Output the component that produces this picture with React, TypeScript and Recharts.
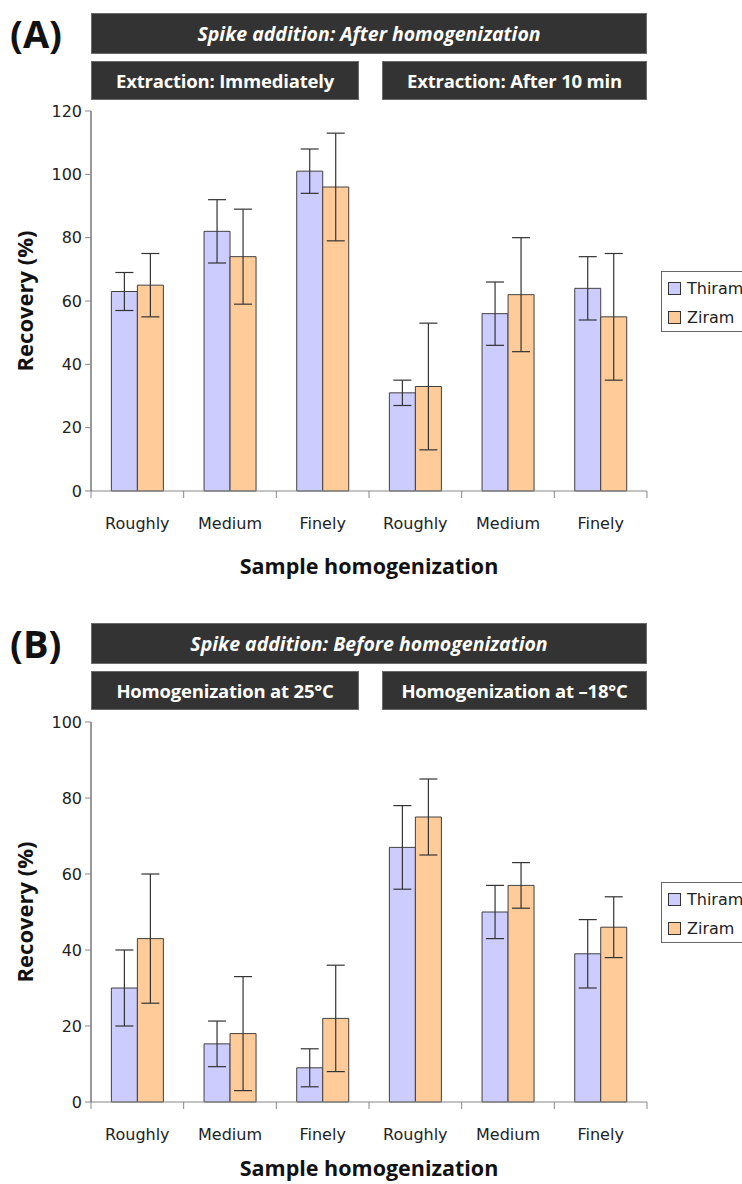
import { BarChart, Bar, XAxis, YAxis, ErrorBar } from "recharts";

const categories = ["Roughly", "Medium", "Finely", "Roughly", "Medium", "Finely"];

// Panel A: spike addition after homogenization
const thiramA = [63, 82, 101, 31, 56, 64];
const thiramErrA = [6, 10, 7, 4, 10, 10];
const ziramA = [65, 74, 96, 33, 62, 55];
const ziramErrA = [10, 15, 17, 20, 18, 20];
const ticksA = [0, 20, 40, 60, 80, 100, 120];

// Panel B: spike addition before homogenization
const thiramB = [30, 15.3, 9, 67, 50, 39];
const thiramErrB = [10, 6, 5, 11, 7, 9];
const ziramB = [43, 18, 22, 75, 57, 46];
const ziramErrB = [17, 15, 14, 10, 6, 8];
const ticksB = [0, 20, 40, 60, 80, 100];

const THIRAM = "#CCCCFF";
const ZIRAM = "#FFCC99";

const W = 742;
const PLOT_LEFT = 91;
const PLOT_RIGHT = 647;
const BAND = (PLOT_RIGHT - PLOT_LEFT) / categories.length;

const headFont = "'Open Sans', 'DejaVu Sans', sans-serif";
const tickFont = "'DejaVu Sans', sans-serif";

function buildRows(t: number[], te: number[], z: number[], ze: number[]) {
  return categories.map((c, i) => ({
    key: "c" + i,
    cat: c,
    thiram: t[i],
    thiramErr: te[i],
    ziram: z[i],
    ziramErr: ze[i],
  }));
}

function BoundaryTick(props: any) {
  const { x, y, index } = props;
  const half = BAND / 2;
  return (
    <g>
      <line x1={x - half} y1={y} x2={x - half} y2={y + 7} stroke="#888" />
      {index === categories.length - 1 && (
        <line x1={x + half} y1={y} x2={x + half} y2={y + 7} stroke="#888" />
      )}
      <text
        x={x}
        y={y + 32}
        textAnchor="middle"
        dominantBaseline="central"
        fill="#222"
        fontSize={16}
        fontFamily={tickFont}
      >
        {categories[index]}
      </text>
    </g>
  );
}

function Banner({ left, top, width, height, text, italic }: any) {
  return (
    <div
      style={{
        position: "absolute",
        left,
        top,
        width,
        height,
        boxSizing: "border-box",
        background: "#333333",
        border: "1px solid #6a6a6a",
        color: "#fff",
        fontFamily: headFont,
        fontWeight: 700,
        fontStyle: italic ? "italic" : "normal",
        fontSize: italic ? 19.5 : 18.5,
        letterSpacing: italic ? 0 : -0.2,
        display: "flex",
        alignItems: "center",
        justifyContent: "center",
        whiteSpace: "nowrap",
      }}
    >
      {text}
    </div>
  );
}

function Legend({ top }: { top: number }) {
  const items = [
    { name: "Thiram", color: THIRAM },
    { name: "Ziram", color: ZIRAM },
  ];
  return (
    <div
      style={{
        position: "absolute",
        left: 661,
        top,
        width: 100,
        height: 61,
        boxSizing: "border-box",
        border: "1px solid #666",
        background: "#fff",
        paddingTop: 2,
      }}
    >
      {items.map((it) => (
        <div key={it.name} style={{ display: "flex", alignItems: "center", height: 29, paddingLeft: 6 }}>
          <span
            style={{
              width: 13,
              height: 13,
              boxSizing: "border-box",
              background: it.color,
              border: "1px solid #333",
              marginRight: 6,
            }}
          />
          <span style={{ fontFamily: tickFont, fontSize: 16, color: "#222" }}>{it.name}</span>
        </div>
      ))}
    </div>
  );
}

function Panel({ top, letter, title, subLeft, subRight, rows, yMax, ticks, plotTop, labelOffset }: any) {
  const plotH = 380;
  const xAxisH = 85;
  const chartH = plotTop + plotH + xAxisH + 6;
  return (
    <div style={{ position: "absolute", left: 0, top, width: W, height: chartH }}>
      <div
        style={{
          position: "absolute",
          left: 10,
          top: 8,
          fontFamily: headFont,
          fontWeight: 700,
          fontSize: 38,
          lineHeight: "50px",
          color: "#111",
        }}
      >
        {letter}
      </div>
      <Banner left={PLOT_LEFT} top={13} width={PLOT_RIGHT - PLOT_LEFT} height={41} text={title} italic />
      <Banner left={PLOT_LEFT} top={61} width={268} height={39} text={subLeft} />
      <Banner left={382} top={61} width={PLOT_RIGHT - 382} height={39} text={subRight} />
      <div style={{ position: "absolute", left: 0, top: 0 }}>
        <BarChart
          width={W}
          height={chartH}
          data={rows}
          margin={{ top: plotTop, right: W - PLOT_RIGHT, bottom: 6, left: 0 }}
          barCategoryGap="22%"
          barGap={0}
        >
          <XAxis
            dataKey="key"
            height={xAxisH}
            interval={0}
            tickLine={false}
            tickSize={0}
            tickMargin={0}
            axisLine={{ stroke: "#888" }}
            tick={<BoundaryTick />}
            label={{
              value: "Sample homogenization",
              position: "insideBottom",
              offset: labelOffset,
              style: { fontFamily: headFont, fontWeight: 700, fontSize: 21.5, fill: "#111" },
            }}
          />
          <YAxis
            width={PLOT_LEFT}
            domain={[0, yMax]}
            ticks={ticks}
            interval={0}
            tickSize={6}
            tickMargin={3}
            axisLine={{ stroke: "#333" }}
            tickLine={{ stroke: "#888" }}
            tick={{ fill: "#222", fontSize: 16, fontFamily: tickFont }}
            label={{
              value: "Recovery (%)",
              angle: -90,
              position: "insideLeft",
              offset: 25,
              style: { textAnchor: "middle", fontFamily: headFont, fontWeight: 700, fontSize: 22, fill: "#111" },
            }}
          />
          <Bar dataKey="thiram" name="Thiram" fill={THIRAM} stroke="#404040" strokeWidth={1} isAnimationActive={false}>
            <ErrorBar dataKey="thiramErr" width={9} stroke="#333" strokeWidth={1.2} />
          </Bar>
          <Bar dataKey="ziram" name="Ziram" fill={ZIRAM} stroke="#404040" strokeWidth={1} isAnimationActive={false}>
            <ErrorBar dataKey="ziramErr" width={9} stroke="#333" strokeWidth={1.2} />
          </Bar>
        </BarChart>
      </div>
      <Legend top={plotTop + plotH / 2 - 30} />
    </div>
  );
}

export default function App() {
  const rowsA = buildRows(thiramA, thiramErrA, ziramA, ziramErrA);
  const rowsB = buildRows(thiramB, thiramErrB, ziramB, ziramErrB);
  return (
    <div
      style={{
        position: "absolute",
        left: 0,
        top: 0,
        width: W,
        height: 1184,
        overflow: "hidden",
        background: "#fff",
      }}
    >
      <Panel
        top={0}
        letter="(A)"
        title="Spike addition: After homogenization"
        subLeft="Extraction: Immediately"
        subRight="Extraction: After 10 min"
        rows={rowsA}
        yMax={120}
        ticks={ticksA}
        plotTop={111}
        labelOffset={2}
      />
      <Panel
        top={610}
        letter="(B)"
        title="Spike addition: Before homogenization"
        subLeft="Homogenization at 25°C"
        subRight="Homogenization at –18°C"
        rows={rowsB}
        yMax={100}
        ticks={ticksB}
        plotTop={112}
        labelOffset={11}
      />
    </div>
  );
}
